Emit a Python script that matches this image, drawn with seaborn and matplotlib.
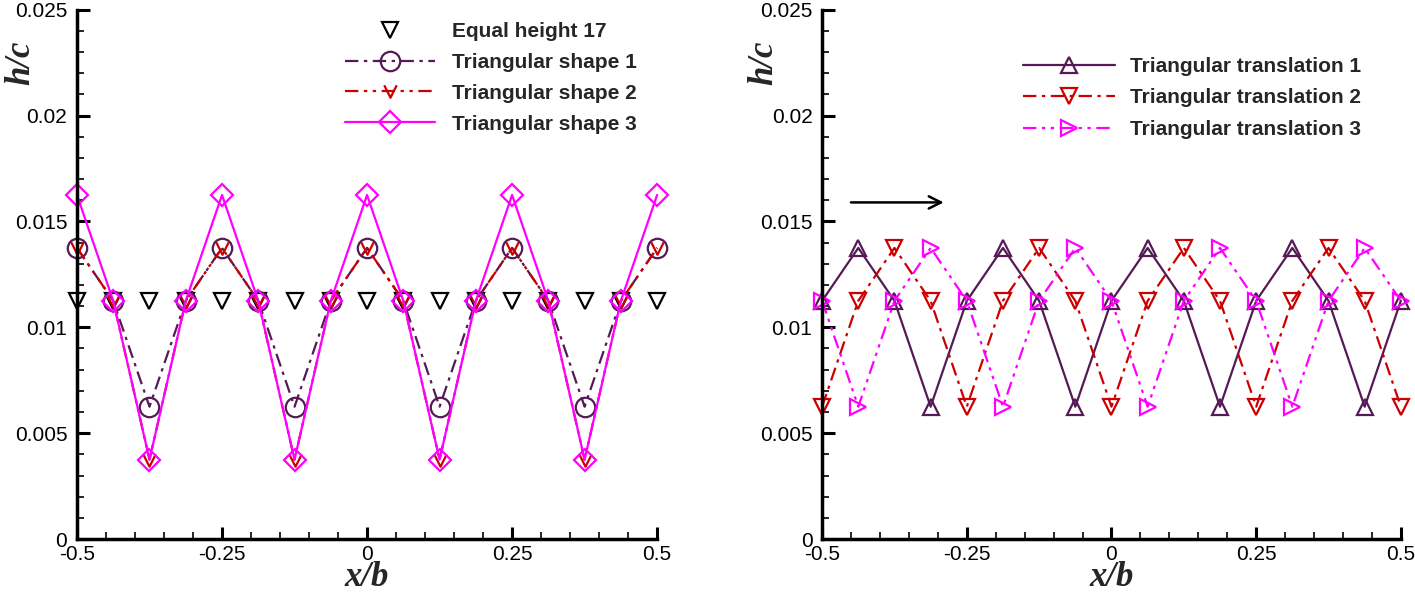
import numpy as np
import seaborn as sns
import matplotlib.pyplot as plt
from matplotlib.path import Path
from matplotlib.ticker import MultipleLocator

# x/b stations (17 points)
x = [-0.5, -0.4375, -0.375, -0.3125, -0.25, -0.1875, -0.125, -0.0625, 0.0,
     0.0625, 0.125, 0.1875, 0.25, 0.3125, 0.375, 0.4375, 0.5]

# left panel
equal_17 = [0.01125] * 17
shape_1 = [0.01375, 0.01125, 0.00625, 0.01125, 0.01375, 0.01125, 0.00625, 0.01125, 0.01375,
           0.01125, 0.00625, 0.01125, 0.01375, 0.01125, 0.00625, 0.01125, 0.01375]
shape_2 = [0.01375, 0.01125, 0.00375, 0.01125, 0.01375, 0.01125, 0.00375, 0.01125, 0.01375,
           0.01125, 0.00375, 0.01125, 0.01375, 0.01125, 0.00375, 0.01125, 0.01375]
shape_3 = [0.01625, 0.01125, 0.00375, 0.01125, 0.01625, 0.01125, 0.00375, 0.01125, 0.01625,
           0.01125, 0.00375, 0.01125, 0.01625, 0.01125, 0.00375, 0.01125, 0.01625]

# right panel
trans_1 = [0.01125, 0.01375, 0.01125, 0.00625, 0.01125, 0.01375, 0.01125, 0.00625, 0.01125,
           0.01375, 0.01125, 0.00625, 0.01125, 0.01375, 0.01125, 0.00625, 0.01125]
trans_2 = [0.00625, 0.01125, 0.01375, 0.01125, 0.00625, 0.01125, 0.01375, 0.01125, 0.00625,
           0.01125, 0.01375, 0.01125, 0.00625, 0.01125, 0.01375, 0.01125, 0.00625]
trans_3 = [0.01125, 0.00625, 0.01125, 0.01375, 0.01125, 0.00625, 0.01125, 0.01375, 0.01125,
           0.00625, 0.01125, 0.01375, 0.01125, 0.00625, 0.01125, 0.01375, 0.01125]

purple = '#551a55'
red = '#cc0000'
magenta = '#ff00ff'

sns.set_style('ticks')
plt.rcParams['font.family'] = ['Liberation Sans', 'DejaVu Sans']

vee = Path([(-1, 1), (0, -1), (1, 1)], [Path.MOVETO, Path.LINETO, Path.LINETO])
dashdot = (0, (6, 2.5, 1.5, 2.5))
dashdotdot = (0, (6, 2.5, 1.5, 2.5, 1.5, 2.5))

fig = plt.figure(figsize=(14.15, 5.92), dpi=100)
ax1 = fig.add_axes([0.0544, 0.0895, 0.41, 0.894])
ax2 = fig.add_axes([0.581, 0.0895, 0.409, 0.894])

lw = 1.6
mew = 1.6
common = dict(mfc='none', mew=mew, clip_on=False)

sns.lineplot(x=x, y=equal_17, ax=ax1, color='black', linestyle='none', marker='v',
             markersize=12, mec='black', label='Equal height 17', **common)
sns.lineplot(x=x, y=shape_1, ax=ax1, color=purple, linestyle=dashdot, lw=lw, marker='o',
             markersize=14, mec=purple, label='Triangular shape 1', **common)
sns.lineplot(x=x, y=shape_2, ax=ax1, color=red, linestyle=dashdotdot, lw=lw, marker=vee,
             markersize=9, mec=red, label='Triangular shape 2', **common)
sns.lineplot(x=x, y=shape_3, ax=ax1, color=magenta, linestyle='-', lw=lw, marker='D',
             markersize=11, mec=magenta, label='Triangular shape 3', **common)

sns.lineplot(x=x, y=trans_1, ax=ax2, color=purple, linestyle='-', lw=lw, marker='^',
             markersize=11, mec=purple, label='Triangular translation 1', **common)
sns.lineplot(x=x, y=trans_2, ax=ax2, color=red, linestyle=dashdot, lw=lw, marker='v',
             markersize=11, mec=red, label='Triangular translation 2', **common)
sns.lineplot(x=x, y=trans_3, ax=ax2, color=magenta, linestyle=dashdotdot, lw=lw, marker='>',
             markersize=11, mec=magenta, label='Triangular translation 3', **common)

ax2.annotate('', xy=(-0.285, 0.0159), xytext=(-0.455, 0.0159),
             arrowprops=dict(arrowstyle='->', color='black', lw=1.8, mutation_scale=22))

lab_font = dict(family=['Liberation Serif', 'DejaVu Serif'], style='italic',
                weight='bold', size=25)

for ax in (ax1, ax2):
    ax.set_xlim(-0.5, 0.5)
    ax.set_ylim(0, 0.025)
    ax.xaxis.set_major_locator(MultipleLocator(0.25))
    ax.xaxis.set_minor_locator(MultipleLocator(0.05))
    ax.yaxis.set_major_locator(MultipleLocator(0.005))
    ax.yaxis.set_minor_locator(MultipleLocator(0.001))
    ax.xaxis.set_major_formatter(plt.FuncFormatter(lambda v, p: f'{v:g}'))
    ax.yaxis.set_major_formatter(plt.FuncFormatter(lambda v, p: f'{v:g}'))
    ax.tick_params(which='major', direction='in', length=9, width=2.2, labelsize=15,
                   color='black', labelcolor='black', pad=4)
    ax.tick_params(which='minor', direction='in', length=5, width=1.2, color='black')
    ax.tick_params(axis='y', which='major', pad=7)
    sns.despine(ax=ax)
    for s in ('left', 'bottom'):
        ax.spines[s].set_linewidth(2.5)
        ax.spines[s].set_color('black')
    ax.set_xlabel('x/b', fontdict=lab_font, va='center')
    ax.set_ylabel('h/c', fontdict=lab_font, va='center')
    ax.xaxis.set_label_coords(0.5, -0.073)

ax1.yaxis.set_label_coords(-0.097, 0.9)
ax2.yaxis.set_label_coords(-0.1, 0.9)

leg_font = dict(family='Liberation Sans', weight='bold', size=15)
ax1.legend(loc='upper left', bbox_to_anchor=(0.462, 0.977), frameon=False, prop=leg_font,
           handlelength=4.3, handletextpad=0.85, labelspacing=0.57, borderpad=0,
           borderaxespad=0)
ax2.legend(loc='upper left', bbox_to_anchor=(0.347, 0.911), frameon=False, prop=leg_font,
           handlelength=4.4, handletextpad=0.75, labelspacing=0.6, borderpad=0,
           borderaxespad=0)

fig.savefig('out.png', dpi=100)
